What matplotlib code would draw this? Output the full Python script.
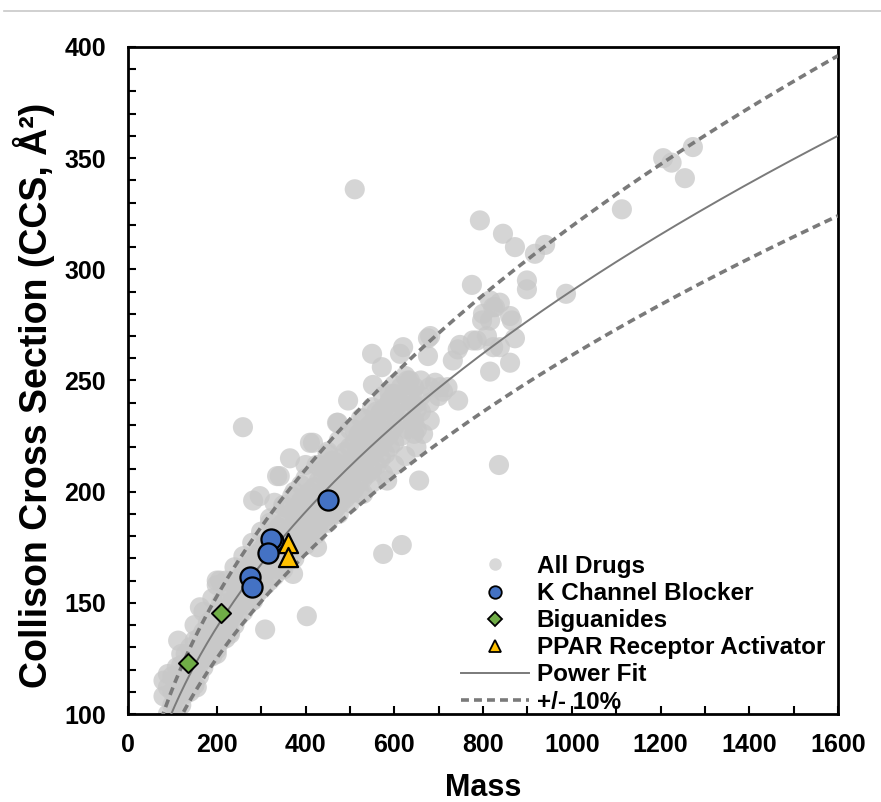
import numpy as np
import matplotlib
matplotlib.use("Agg")
import matplotlib.pyplot as plt
from matplotlib.lines import Line2D

# ---------------- data ----------------
# All drugs: (mass, CCS)
all_drugs = [
    (80, 108), (80, 115), (90, 100), (90, 112), (90, 118), (100, 104), (100, 110), (100, 117),
    (110, 102), (110, 108), (110, 115), (110, 121), (120, 104), (120, 110), (120, 116), (120, 122),
    (120, 127), (130, 109), (130, 116), (130, 121), (130, 127), (140, 110), (140, 114), (140, 119),
    (140, 124), (140, 130), (150, 113), (150, 120), (150, 126), (150, 133), (150, 140),
    (160, 117), (160, 122), (160, 128), (160, 134), (170, 121), (170, 126), (170, 131), (170, 137),
    (170, 146), (180, 125), (180, 130), (180, 135), (180, 141), (190, 126), (190, 131), (190, 137),
    (190, 143), (190, 152), (200, 129), (200, 134), (200, 140), (200, 146), (200, 158),
    (210, 133), (210, 138), (210, 143), (210, 150), (220, 134), (220, 140), (220, 146), (220, 152),
    (220, 160), (230, 137), (230, 143), (230, 149), (230, 156), (240, 140), (240, 146), (240, 152),
    (240, 158), (240, 166), (250, 144), (250, 149), (250, 155), (250, 161), (260, 146), (260, 152),
    (260, 158), (260, 164), (260, 171), (270, 149), (270, 155), (270, 161), (270, 167),
    (280, 151), (280, 157), (280, 163), (280, 169), (280, 177), (282, 196), (290, 154), (290, 160),
    (290, 166), (290, 172), (300, 156), (300, 162), (300, 168), (300, 174), (300, 182), (297, 198),
    (310, 158), (310, 164), (310, 170), (310, 177), (320, 160), (320, 167), (320, 173), (320, 179),
    (320, 186), (330, 162), (330, 169), (330, 175), (330, 182), (330, 195), (340, 165), (340, 171),
    (340, 177), (340, 184), (342, 207), (350, 167), (350, 174), (350, 180), (350, 186), (350, 193),
    (360, 169), (360, 176), (360, 182), (360, 189), (365, 215), (370, 171), (370, 178), (370, 184),
    (370, 191), (370, 198), (380, 174), (380, 180), (380, 187), (380, 193), (390, 176), (390, 182),
    (390, 189), (390, 196), (390, 203), (400, 178), (400, 184), (400, 191), (400, 198), (400, 212),
    (410, 181), (410, 187), (410, 194), (410, 200), (410, 222), (417, 222), (420, 182), (420, 189),
    (420, 196), (420, 202), (430, 185), (430, 191), (430, 198), (430, 205), (430, 212),
    (440, 186), (440, 193), (440, 200), (440, 207), (450, 189), (450, 195), (450, 202), (450, 209),
    (450, 218), (460, 190), (460, 197), (460, 204), (460, 211), (470, 193), (470, 199), (470, 206),
    (470, 213), (473, 231), (480, 195), (480, 201), (480, 208), (480, 215), (490, 197), (490, 204),
    (490, 211), (490, 218), (496, 241), (500, 199), (500, 206), (500, 213), (500, 220),
    (510, 201), (510, 208), (510, 215), (510, 222), (510, 228), (520, 204), (520, 210), (520, 217),
    (520, 224), (530, 206), (530, 212), (530, 219), (530, 226), (530, 233), (540, 208), (540, 215),
    (540, 222), (540, 229), (552, 248), (550, 210), (550, 217), (550, 224), (550, 231), (550, 262),
    (560, 212), (560, 219), (560, 226), (560, 233), (570, 215), (570, 221), (570, 228), (570, 236),
    (572, 256), (580, 217), (580, 224), (580, 231), (580, 238), (590, 220), (590, 226), (590, 233),
    (590, 241), (600, 222), (600, 229), (600, 236), (600, 244), (613, 262), (615, 225), (615, 232),
    (615, 240), (615, 247), (620, 265), (630, 228), (630, 236), (630, 243), (630, 250), (635, 250),
    (642, 231), (645, 226), (645, 232), (645, 239), (645, 247), (651, 237), (651, 228), (660, 236),
    (660, 243), (660, 250), (665, 226), (676, 269), (676, 261), (680, 232), (680, 240), (680, 247),
    (681, 270), (692, 249), (700, 243), (703, 247), (710, 245), (720, 247), (732, 259), (743, 264),
    (744, 241), (748, 266), (775, 293), (777, 268), (786, 268), (793, 322), (798, 277), (800, 280),
    (809, 270), (816, 286), (816, 277), (816, 254), (823, 283), (823, 265), (827, 283), (838, 285),
    (838, 265), (845, 316), (861, 279), (861, 258), (865, 277), (872, 310), (872, 269), (899, 295),
    (899, 291), (917, 307), (940, 311), (987, 289), (511, 336), (1113, 327), (1206, 350),
    (1225, 348), (1273, 355), (1255, 341), (836, 212), (656, 205), (575, 172), (617, 176),
    (403, 144), (309, 138), (259, 229),
    (320, 188), (350, 194), (375, 200), (400, 206), (425, 212), (450, 217), (475, 223), (500, 228),
    (525, 233), (550, 238), (575, 243), (600, 248), (625, 252), (350, 165), (375, 170), (400, 176),
    (425, 181), (450, 186), (475, 190), (500, 195), (525, 199), (550, 204), (575, 208), (600, 212),
    (625, 216), (650, 220), (440, 210), (460, 214), (520, 226), (560, 236), (590, 244), (610, 240),
    (640, 244), (530, 199), (584, 205), (462, 190), (426, 175), (372, 163), (282, 151), (230, 136),
    (200, 127), (155, 112), (113, 133), (162, 148), (200, 160), (207, 160), (336, 207), (471, 231),
]
all_mass = [p[0] for p in all_drugs]
all_ccs = [p[1] for p in all_drugs]

k_mass = [451, 327, 322, 316, 275, 279]
k_ccs = [196.3, 178.0, 178.5, 172.4, 161.6, 157.1]

big_mass = [135, 210]
big_ccs = [122.9, 145.4]

ppar_mass = [361, 361]
ppar_ccs = [176.9, 170.6]

# power fit CCS = a * M^b
fit_a = 12.29
fit_b = 0.4578
fit_range = [75, 1600]
band = 0.10

x_ticks = [0, 200, 400, 600, 800, 1000, 1200, 1400, 1600]
y_ticks = [100, 150, 200, 250, 300, 350, 400]

# ---------------- plot ----------------
plt.rcParams['font.family'] = ['Liberation Sans', 'DejaVu Sans']
plt.rcParams['font.weight'] = 'bold'

fig = plt.figure(figsize=(8.81, 8.02), dpi=100)
ax = fig.add_axes([128 / 881, 1 - 714 / 802, (838 - 128) / 881, (714 - 47) / 802])

fig.add_artist(Line2D([0.005, 1.0], [1 - 11 / 802, 1 - 11 / 802], color='#c8c8c8', lw=1.2,
                      transform=fig.transFigure))

ax.scatter(all_mass, all_ccs, s=210, color='#c8c8c8', alpha=0.75, edgecolors='none', zorder=2)

xm = np.linspace(fit_range[0], fit_range[1], 400)
yf = fit_a * xm ** fit_b
ax.plot(xm, yf, color='#7a7a7a', lw=1.4, zorder=3)
ax.plot(xm, yf * (1 + band), color='#7a7a7a', lw=2.6, dashes=(2.2, 1.4), zorder=3)
ax.plot(xm, yf * (1 - band), color='#7a7a7a', lw=2.6, dashes=(2.2, 1.4), zorder=3)

ax.scatter(k_mass, k_ccs, s=210, color='#4472C4', edgecolors='black', linewidths=1.6, zorder=5)
ax.scatter(big_mass, big_ccs, s=95, marker='D', color='#70AD47', edgecolors='black',
           linewidths=1.4, zorder=5)
ax.scatter(ppar_mass, ppar_ccs, s=190, marker='^', color='#FFC000', edgecolors='black',
           linewidths=1.6, zorder=6)

ax.set_xlim(0, 1600)
ax.set_ylim(100, 400)
ax.set_xticks(x_ticks)
ax.set_yticks(y_ticks)
ax.set_xticks(np.arange(0, 1601, 100), minor=True)
ax.set_yticks(np.arange(100, 401, 10), minor=True)
ax.tick_params(which='both', direction='in', length=6, width=1.5, top=False, right=False,
               labelsize=18)
ax.tick_params(axis='x', pad=14)
ax.tick_params(axis='y', pad=16)
for lab in ax.get_xticklabels() + ax.get_yticklabels():
    lab.set_fontweight('bold')
for sp in ax.spines.values():
    sp.set_linewidth(2)

ax.set_xlabel('Mass', fontsize=22, fontweight='bold', labelpad=11)
ax.set_ylabel('Collison Cross Section (CCS, Å²)', fontsize=27, fontweight='bold')
ax.yaxis.set_label_coords(-0.103, 0.478)

handles = [
    Line2D([], [], ls='none', marker='o', markersize=9, color='#d9d9d9', markeredgecolor='none'),
    Line2D([], [], ls='none', marker='o', markersize=9, markerfacecolor='#4472C4',
           markeredgecolor='black', markeredgewidth=1.3),
    Line2D([], [], ls='none', marker='D', markersize=7, markerfacecolor='#70AD47',
           markeredgecolor='black', markeredgewidth=1.3),
    Line2D([], [], ls='none', marker='^', markersize=9, markerfacecolor='#FFC000',
           markeredgecolor='black', markeredgewidth=1.3),
    Line2D([], [], color='#7a7a7a', lw=1.4),
    Line2D([], [], color='#7a7a7a', lw=2.6, dashes=(2.2, 1.4)),
]
labels = ['All Drugs', 'K Channel Blocker', 'Biguanides', 'PPAR Receptor Activator',
          'Power Fit', '+/- 10%']
leg = ax.legend(handles, labels, loc='lower left', bbox_to_anchor=(0.455, -0.014),
                frameon=False, fontsize=17.5, handlelength=2.8, handletextpad=0.33,
                labelspacing=0.17, borderaxespad=0)
for t in leg.get_texts():
    t.set_fontweight('bold')

fig.savefig('out.png', dpi=100)
